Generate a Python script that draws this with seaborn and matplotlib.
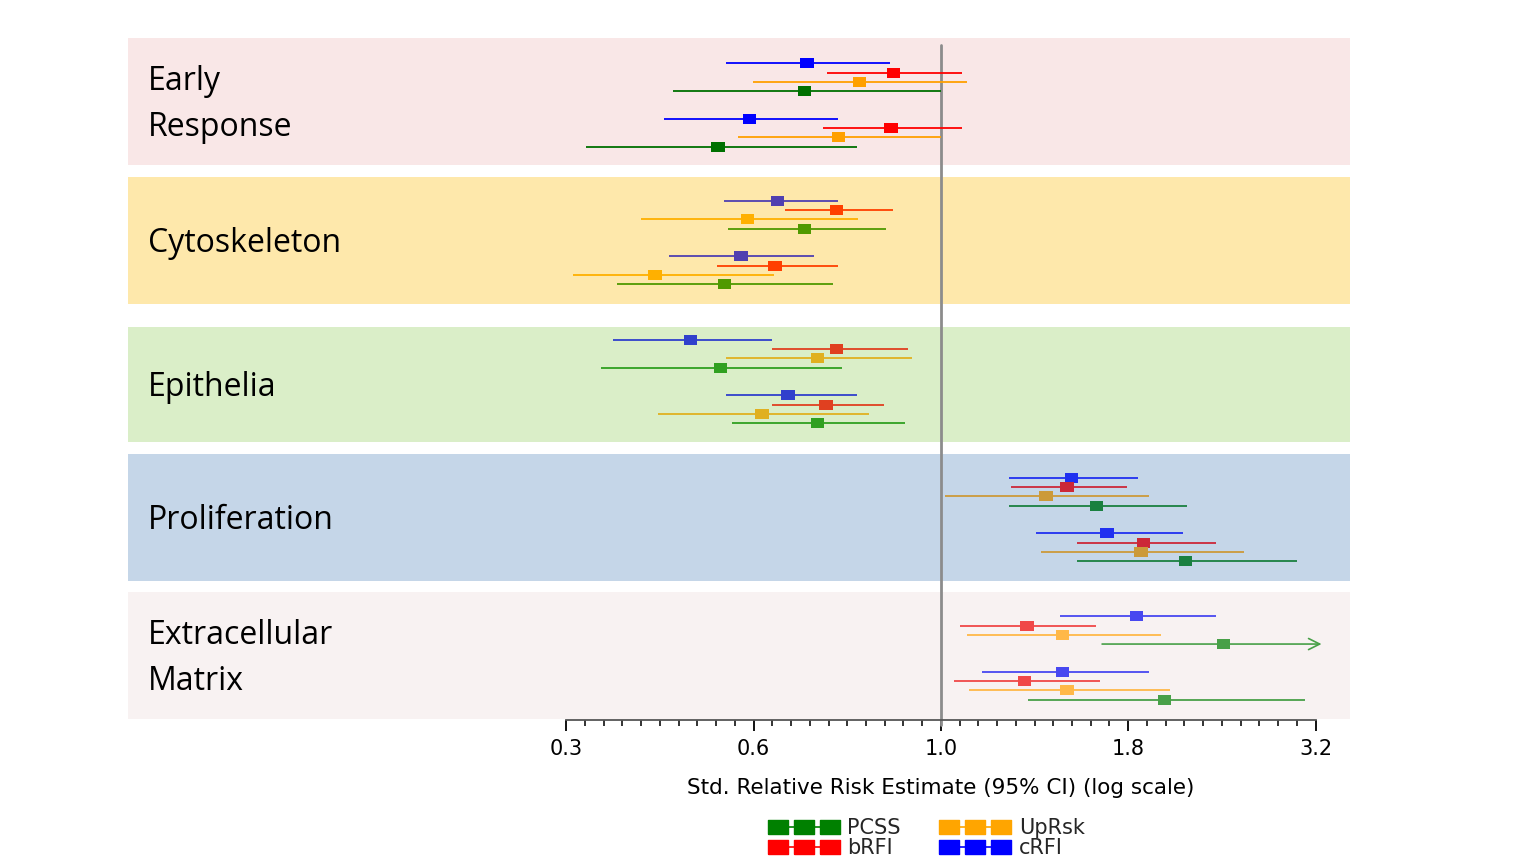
import matplotlib
matplotlib.use("Agg")
import matplotlib.pyplot as plt
import matplotlib.ticker as mticker
import matplotlib.transforms as mtransforms
from matplotlib.lines import Line2D
import numpy as np
import pandas as pd
import seaborn as sns

sns.set_style("white")
plt.rcParams["font.family"] = ["DejaVu Sans"]

# ---------------------------------------------------------------------------
# Data. Each band: two blocks of four rows,
# rows ordered top to bottom cRFI, bRFI, UpRsk, PCSS.
# ---------------------------------------------------------------------------
bands = ["Early\nResponse", "Cytoskeleton", "Epithelia", "Proliferation",
         "Extracellular\nMatrix"]
series = ["cRFI", "bRFI", "UpRsk", "PCSS"]

est = [
    [0.663, 0.864, 0.779, 0.658, 0.555, 0.858, 0.730, 0.504],
    [0.605, 0.725, 0.552, 0.658, 0.541, 0.601, 0.415, 0.514],
    [0.463, 0.725, 0.684, 0.508, 0.625, 0.702, 0.577, 0.684],
    [1.493, 1.473, 1.381, 1.614, 1.667, 1.863, 1.851, 2.120],
    [1.825, 1.303, 1.454, 2.382, 1.454, 1.293, 1.473, 1.987],
]
lo = [
    [0.516, 0.704, 0.561, 0.439, 0.427, 0.696, 0.536, 0.336],
    [0.513, 0.619, 0.398, 0.519, 0.433, 0.503, 0.323, 0.370],
    [0.365, 0.595, 0.516, 0.352, 0.516, 0.595, 0.419, 0.526],
    [1.232, 1.240, 1.013, 1.232, 1.341, 1.518, 1.359, 1.518],
    [1.442, 1.061, 1.083, 1.641, 1.133, 1.042, 1.090, 1.307],
]
hi = [
    [0.856, 1.068, 1.082, 1.000, 0.728, 1.068, 1.000, 0.772],
    [0.728, 0.862, 0.776, 0.845, 0.677, 0.728, 0.598, 0.718],
    [0.595, 0.903, 0.914, 0.737, 0.772, 0.839, 0.802, 0.896],
    [1.832, 1.773, 1.894, 2.128, 2.102, 2.331, 2.536, 2.985],
    [2.329, 1.609, 1.967, 3.600, 1.894, 1.629, 2.020, 3.062],
]

tick_vals = 10 ** np.array([-0.5, -0.25, 0.0, 0.25, 0.5])
tick_labels = ["0.3", "0.6", "1.0", "1.8", "3.2"]

# colours: background per band, and cRFI/bRFI/UpRsk/PCSS per band
band_bg = ["#F9E7E7", "#FEE8AB", "#DAEEC8", "#C5D6E8", "#F8F2F2"]
band_cols = [
    ["#0000FF", "#FF0000", "#FFA000", "#007000"],
    ["#5040B0", "#FF4000", "#FFB000", "#509900"],
    ["#3040CC", "#E04020", "#E0B020", "#30A020"],
    ["#2030F0", "#CC2838", "#CC9A3A", "#1A8040"],
    ["#4848F0", "#F04848", "#FFB848", "#48A048"],
]
legend_cols = {"PCSS": "#008000", "bRFI": "#FF0000",
               "UpRsk": "#FFA500", "cRFI": "#0000FF"}

# layout (vertical units = reference pixels)
band_edges = [(38, 165), (177, 304), (327, 442), (454, 581), (592, 719)]
row_centres = [105, 242.5, 381.5, 519.5, 658]
row_step = 9.2
block_gap = 55.5

rows = []
for b in range(len(bands)):
    for g in range(2):
        for s in range(4):
            i = g * 4 + s
            rows.append({
                "key": f"{b}-{s}",
                "band": b,
                "est": est[b][i],
                "lo": lo[b][i],
                "hi": hi[b][i],
                "y": row_centres[b] + (s - 1.5) * row_step + (g - 0.5) * block_gap,
                "color": band_cols[b][s],
            })
df = pd.DataFrame(rows)
palette = {r["key"]: r["color"] for r in rows}

rect = [(-1, -0.74), (1, -0.74), (1, 0.74), (-1, 0.74), (-1, -0.74)]

fig = plt.figure(figsize=(15.22, 8.57), dpi=100)
ax = fig.add_axes([128 / 1522, 1 - 720 / 857, 1222 / 1522, 682 / 857])
ax.set_xscale("log")
xmin, xmax = 10 ** -1.085, 10 ** 0.546
ax.set_xlim(xmin, xmax)
ax.set_ylim(720, 38)

for (top, bot), bg in zip(band_edges, band_bg):
    ax.axhspan(top, bot, color=bg, lw=0, zorder=0)

# reference line at 1.0
ax.axvline(1.0, ymin=-0.008, ymax=(720 - 45) / (720 - 38), color="#8C8C8C",
           lw=2, zorder=1, clip_on=False)

# confidence intervals
arrow_end = tick_vals[-1] * 10 ** 0.008
for r in rows:
    if r["hi"] > tick_vals[-1]:
        ax.annotate("", xy=(arrow_end, r["y"]), xytext=(r["lo"], r["y"]),
                    arrowprops=dict(arrowstyle="->", color=r["color"], lw=1.2,
                                    mutation_scale=20, shrinkA=0, shrinkB=0),
                    zorder=2)
    else:
        ax.hlines(r["y"], r["lo"], r["hi"], color=r["color"], lw=1.3, zorder=2)

sns.scatterplot(data=df, x="est", y="y", hue="key", palette=palette,
                marker=rect, s=95, linewidth=0, legend=False, ax=ax, zorder=3)

# band labels
trans = mtransforms.blended_transform_factory(ax.transAxes, ax.transData)
for (top, bot), name in zip(band_edges, bands):
    ax.text(0.0164, (top + bot) / 2 + 3, name, transform=trans, ha="left",
            va="center", fontsize=23, family=["Open Sans", "DejaVu Sans"],
            linespacing=1.5, color="#000000")

# x axis
ax.xaxis.set_major_locator(mticker.FixedLocator(tick_vals))
ax.xaxis.set_major_formatter(mticker.FixedFormatter(tick_labels))
minor = 10 ** np.arange(-0.5, 0.5001, 0.025)
ax.xaxis.set_minor_locator(mticker.FixedLocator(minor))
ax.xaxis.set_minor_formatter(mticker.NullFormatter())
ax.tick_params(axis="x", which="major", bottom=True, length=8, width=1.4,
               direction="out", labelsize=15, pad=6, color="#111111",
               labelcolor="#000000")
ax.tick_params(axis="x", which="minor", bottom=True, length=4, width=1.2,
               direction="out", color="#111111")
ax.set_yticks([])
ax.set_ylabel("")
for side in ["left", "top", "right"]:
    ax.spines[side].set_visible(False)
ax.spines["bottom"].set_bounds(tick_vals[0], tick_vals[-1])
ax.spines["bottom"].set_color("#555555")
ax.spines["bottom"].set_linewidth(1.3)

ax.set_xlabel("Std. Relative Risk Estimate (95% CI) (log scale)", fontsize=15.5,
              color="#000000")
ax.xaxis.set_label_coords((941 - 128) / 1222, -0.085)

# legend
order = ["PCSS", "bRFI", "UpRsk", "cRFI"]
handles = [Line2D([0], [0], color=legend_cols[k], marker=rect, markersize=14.5,
                  lw=1.2) for k in order]
fig.legend(handles, order, ncol=2, loc="center",
           bbox_to_anchor=(928 / 1522, 1 - 838 / 857), frameon=False,
           numpoints=3, handlelength=3.1, fontsize=15, labelspacing=0.0,
           columnspacing=2.0, handletextpad=0.55, borderpad=0)

fig.savefig("out.png", dpi=100)
